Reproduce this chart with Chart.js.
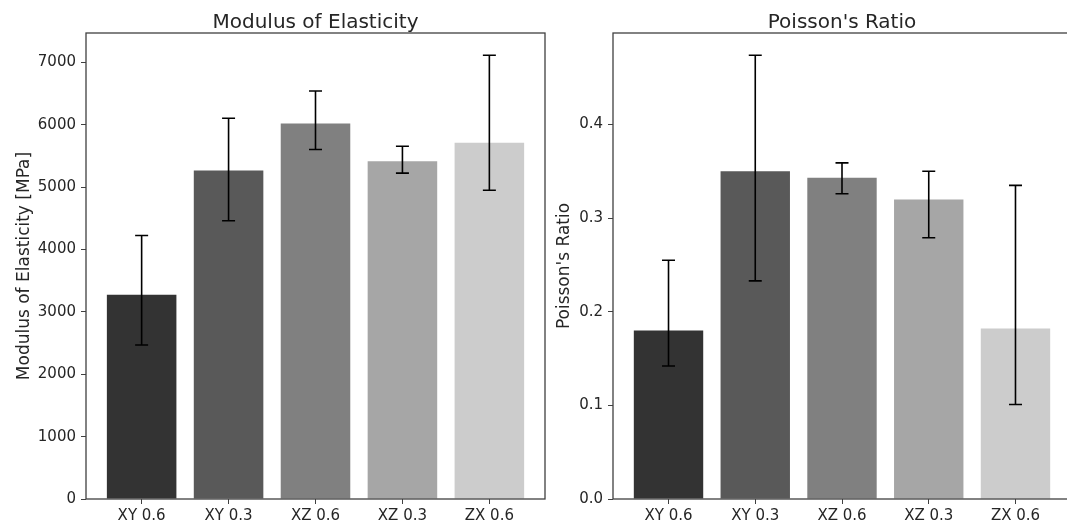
<!DOCTYPE html>
<html>
<head>
<meta charset="utf-8">
<script src="https://cdn.jsdelivr.net/npm/chart.js@4/dist/chart.umd.min.js"></script>
<style>
  html, body { margin: 0; padding: 0; background: #ffffff; overflow: hidden; }
  body { width: 1067px; height: 528px; position: relative; }
  canvas { position: absolute; top: 0; }
  #modulusChart { left: 0; }
  #poissonChart { left: 545px; }
</style>
</head>
<body>
<canvas id="modulusChart" width="550" height="528"></canvas>
<canvas id="poissonChart" width="530" height="528"></canvas>
<script>
/* ==========================================================
   DATA
========================================================== */

const categories = ["XY 0.6", "XY 0.3", "XZ 0.6", "XZ 0.3", "ZX 0.6"];
const barColors = ["#333333", "#595959", "#808080", "#a6a6a6", "#cccccc"];

const modulusValues = [3274, 5267, 6018, 5413, 5710];
const modulusErrLow = [2469, 4462, 5602, 5224, 4949];
const modulusErrHigh = [4225, 6105, 6542, 5656, 7115];
const modulusTicks = [0, 1000, 2000, 3000, 4000, 5000, 6000, 7000];

const poissonValues = [0.180, 0.350, 0.343, 0.320, 0.182];
const poissonErrLow = [0.142, 0.233, 0.326, 0.279, 0.101];
const poissonErrHigh = [0.255, 0.474, 0.359, 0.350, 0.335];
const poissonTicks = [0.0, 0.1, 0.2, 0.3, 0.4];

const FONT = "'DejaVu Sans', sans-serif";
const TEXT = "#262626";
const AXIS = "#404040";

/* ==========================================================
   PLUGINS
========================================================== */

// kotak bingkai penuh seperti matplotlib
const framePlugin = {
    id: "frame",
    afterDraw(chart) {
        const { ctx, chartArea: { left, right, top, bottom } } = chart;
        ctx.save();
        ctx.strokeStyle = AXIS;
        ctx.lineWidth = 1.3;
        ctx.strokeRect(left, top, right - left, bottom - top);
        ctx.restore();
    }
};

// judul di tengah area plot, bukan tengah canvas
const axesTitlePlugin = {
    id: "axesTitle",
    afterDraw(chart) {
        const text = chart.options.plugins.axesTitle?.text;
        if (!text) {
            return;
        }
        const { ctx, chartArea: { left, right } } = chart;
        ctx.save();
        ctx.fillStyle = TEXT;
        ctx.font = "20px " + FONT;
        ctx.textAlign = "center";
        ctx.textBaseline = "alphabetic";
        ctx.fillText(text, (left + right) / 2, 27.5);
        ctx.restore();
    }
};

const errorBarPlugin = {
    id: "errorBars",
    afterDatasetsDraw(chart) {
        const opts = chart.options.plugins.errorBars;
        if (!opts) {
            return;
        }
        const { ctx, scales: { x, y } } = chart;
        ctx.save();
        ctx.strokeStyle = "#000000";
        ctx.lineWidth = 1.6;
        opts.low.forEach((lo, i) => {
            const px = x.getPixelForValue(i);
            const yLo = y.getPixelForValue(lo);
            const yHi = y.getPixelForValue(opts.high[i]);
            ctx.beginPath();
            ctx.moveTo(px, yLo);
            ctx.lineTo(px, yHi);
            ctx.moveTo(px - 6.5, yLo);
            ctx.lineTo(px + 6.5, yLo);
            ctx.moveTo(px - 6.5, yHi);
            ctx.lineTo(px + 6.5, yHi);
            ctx.stroke();
        });
        ctx.restore();
    }
};

/* ==========================================================
   RENDERER
========================================================== */

function renderChart(canvasId, cfg) {

    const canvas = document.getElementById(canvasId);

    const yMax = Math.max(...cfg.high) * 1.05;

    new Chart(canvas, {
        type: "bar",
        data: {
            datasets: [{
                data: cfg.values.map((v, i) => ({ x: i, y: v })),
                backgroundColor: barColors,
                borderWidth: 0,
                categoryPercentage: 1,
                barPercentage: 0.8
            }]
        },
        options: {
            responsive: false,
            animation: false,
            layout: {
                padding: { left: 0, right: cfg.padRight, top: 33, bottom: 0 }
            },
            plugins: {
                legend: { display: false },
                tooltip: { enabled: false },
                title: { display: false },
                axesTitle: { text: cfg.title },
                errorBars: { low: cfg.low, high: cfg.high }
            },
            scales: {
                x: {
                    type: "linear",
                    min: -0.64,
                    max: 4.64,
                    offset: false,
                    afterBuildTicks: scale => {
                        scale.ticks = categories.map((c, i) => ({ value: i }));
                    },
                    afterFit: scale => {
                        scale.height = 29;
                    },
                    ticks: {
                        callback: value => categories[value],
                        color: TEXT,
                        font: { family: FONT, size: 15 },
                        padding: 3.5,
                        maxRotation: 0,
                        autoSkip: false
                    },
                    grid: {
                        offset: false,
                        drawOnChartArea: false,
                        drawTicks: true,
                        tickLength: 5,
                        color: AXIS
                    },
                    border: { display: false }
                },
                y: {
                    min: 0,
                    max: yMax,
                    afterBuildTicks: scale => {
                        scale.ticks = cfg.ticks.map(v => ({ value: v }));
                    },
                    afterFit: scale => {
                        scale.width = cfg.yWidth;
                    },
                    ticks: {
                        callback: cfg.format,
                        color: TEXT,
                        font: { family: FONT, size: 15 },
                        padding: 5
                    },
                    grid: {
                        drawOnChartArea: false,
                        drawTicks: true,
                        tickLength: 5,
                        color: AXIS
                    },
                    border: { display: false },
                    title: {
                        display: true,
                        text: cfg.yLabel,
                        color: TEXT,
                        font: { family: FONT, size: 17 },
                        padding: { top: cfg.yTitlePad, bottom: 0 }
                    }
                }
            }
        },
        plugins: [framePlugin, errorBarPlugin, axesTitlePlugin]
    });

}

renderChart("modulusChart", {
    title: "Modulus of Elasticity",
    yLabel: "Modulus of Elasticity [MPa]",
    values: modulusValues,
    low: modulusErrLow,
    high: modulusErrHigh,
    ticks: modulusTicks,
    format: v => String(v),
    yWidth: 86,
    yTitlePad: 14.8,
    padRight: 5
});

renderChart("poissonChart", {
    title: "Poisson's Ratio",
    yLabel: "Poisson's Ratio",
    values: poissonValues,
    low: poissonErrLow,
    high: poissonErrHigh,
    ticks: poissonTicks,
    format: v => Number(v).toFixed(1),
    yWidth: 68,
    yTitlePad: 9.3,
    padRight: 4
});
</script>
</body>
</html>
